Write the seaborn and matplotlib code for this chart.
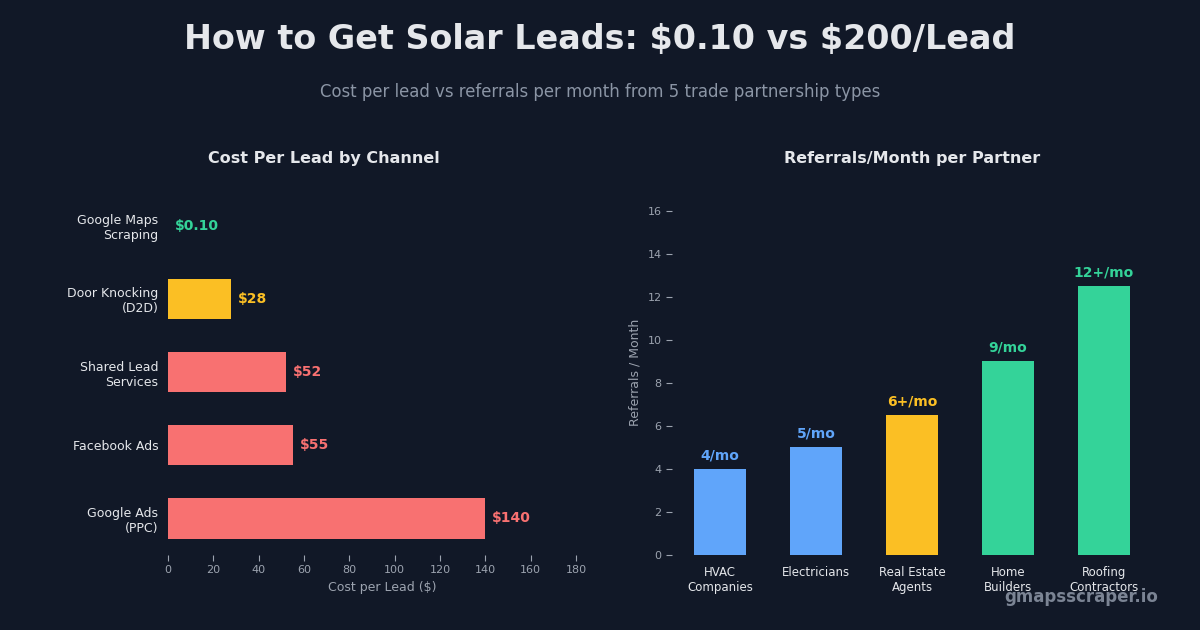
import pandas as pd
import numpy as np
import matplotlib.pyplot as plt
import seaborn as sns

# dados
canais = ["Google Maps\nScraping", "Door Knocking\n(D2D)", "Shared Lead\nServices",
          "Facebook Ads", "Google Ads\n(PPC)"]
custo = [0.10, 28, 52, 55, 140]
custo_txt = ["\\$0.10", "\\$28", "\\$52", "\\$55", "\\$140"]
cores_custo = ["#34d399", "#fbbf24", "#f87171", "#f87171", "#f87171"]

parceiros = ["HVAC\nCompanies", "Electricians", "Real Estate\nAgents", "Home\nBuilders",
             "Roofing\nContractors"]
referrals = [4, 5, 6.5, 9, 12.5]
referrals_txt = ["4/mo", "5/mo", "6+/mo", "9/mo", "12+/mo"]
cores_ref = ["#60a5fa", "#60a5fa", "#fbbf24", "#34d399", "#34d399"]

BG = "#111827"
TXT = "#e5e7eb"
MUTED = "#9ca3af"

sns.set_style("dark")
plt.rcParams['font.family'] = ['DejaVu Sans']

fig = plt.figure(figsize=(12, 6.3), dpi=100, facecolor=BG)
ax1 = fig.add_axes([0.14, 0.119, 0.357, 0.581])
ax2 = fig.add_axes([0.56, 0.119, 0.40, 0.581])

for ax in (ax1, ax2):
    ax.set_facecolor(BG)
    for s in ax.spines.values():
        s.set_visible(False)
    ax.grid(False)

# 1. Custo por lead
df1 = pd.DataFrame({"canal": canais, "custo": custo})
sns.barplot(data=df1, y="canal", x="custo", hue="canal", palette=cores_custo,
            legend=False, width=0.55, ax=ax1, saturation=1, linewidth=0)
ax1.set_xlim(0, 189)
ax1.set_ylim(4.5, -0.5)
ax1.set_xticks(range(0, 181, 20))
ax1.tick_params(axis='x', colors=MUTED, labelsize=8, length=4, width=0.8, bottom=True)
ax1.tick_params(axis='y', colors=TXT, labelsize=9, length=0, pad=7)
ax1.set_xlabel("Cost per Lead (\\$)", color=MUTED, fontsize=9)
ax1.set_ylabel("")
fig.text(324 / 1200, 1 - 159 / 630, "Cost Per Lead by Channel", color=TXT, fontsize=11.5,
         fontweight='bold', ha='center', va='center')
for i, (v, t) in enumerate(zip(custo, custo_txt)):
    ax1.text(v + 3, i, t, color=cores_custo[i], fontsize=10, fontweight='bold',
             va='center', ha='left')

# 2. Referrals por mes
df2 = pd.DataFrame({"parceiro": parceiros, "ref": referrals})
sns.barplot(data=df2, x="parceiro", y="ref", hue="parceiro", palette=cores_ref,
            legend=False, width=0.55, ax=ax2, saturation=1, linewidth=0)
ax2.set_xlim(-0.5, 4.5)
ax2.set_ylim(0, 17)
ax2.set_yticks(range(0, 17, 2))
ax2.tick_params(axis='y', colors=MUTED, labelsize=8, length=4, width=0.8, left=True)
ax2.tick_params(axis='x', colors=TXT, labelsize=8.5, length=0, pad=8)
ax2.set_ylabel("Referrals / Month", color=MUTED, fontsize=9)
ax2.set_xlabel("")
fig.text(912 / 1200, 1 - 159 / 630, "Referrals/Month per Partner", color=TXT, fontsize=11.5,
         fontweight='bold', ha='center', va='center')
for i, (v, t) in enumerate(zip(referrals, referrals_txt)):
    ax2.text(i, v + 0.3, t, color=cores_ref[i], fontsize=10, fontweight='bold',
             va='bottom', ha='center')

fig.text(0.5, 0.937, "How to Get Solar Leads: \\$0.10 vs \\$200/Lead", color=TXT,
         fontsize=24, fontweight='bold', ha='center', va='center')
fig.text(0.5, 0.854, "Cost per lead vs referrals per month from 5 trade partnership types",
         color="#8b95a5", fontsize=11.9, ha='center', va='center')
fig.text(0.965, 0.053, "gmapsscraper.io", color="#7b8494", fontsize=12,
         fontweight='bold', ha='right', va='center')

plt.savefig("out.png", dpi=100, facecolor=BG)
